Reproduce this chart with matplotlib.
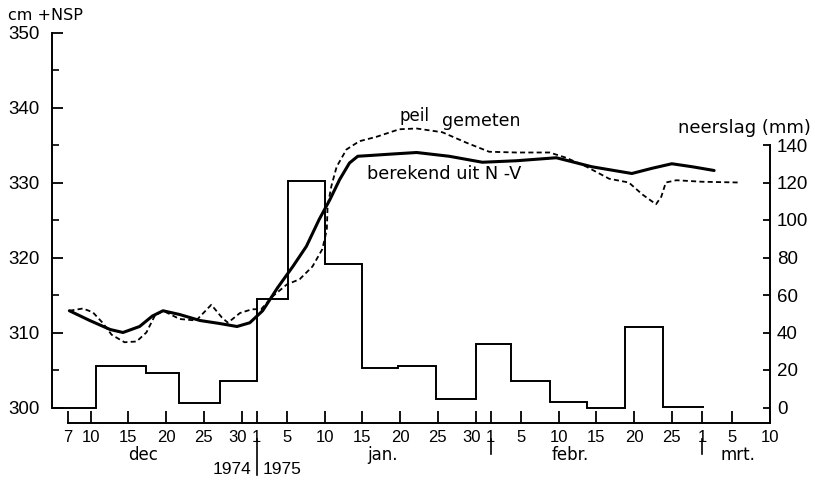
import matplotlib
matplotlib.use('Agg')
import matplotlib.pyplot as plt
import matplotlib.transforms as mtransforms
from matplotlib.ticker import MultipleLocator

# x positions are days counted from 1 dec 1974 (1 dec = 0)
tick_days = [6, 9, 14, 19, 24, 29, 31, 35, 40, 45, 50, 55, 60, 62, 66, 71, 76, 81, 86, 90, 94, 99]
tick_labels = ['7', '10', '15', '20', '25', '30', '1', '5', '10', '15', '20', '25', '30',
               '1', '5', '10', '15', '20', '25', '1', '5', '10']

months = ['dec', 'jan.', 'febr.', 'mrt.']
month_days = [16.0, 47.7, 72.5, 94.8]
month_breaks = [62, 90]

# neerslag (mm), steps
neerslag_edges = [3.9, 9.7, 16.3, 20.7, 26.1, 31.1, 35.2, 40.0, 45.0, 49.7, 54.7,
                  60.1, 64.7, 69.8, 74.8, 79.8, 84.8, 90.3]
neerslag_mm = [0, 22, 18.5, 2.6, 14.3, 58, 121, 76.6, 21, 22, 4.8, 34, 14.3, 3, 0, 43, 0.5]

# berekend uit N-V (cm +NSP)
ber_days = [6.2, 8.9, 11.6, 13.3, 15.5, 17.2, 18.6, 20.8, 23.5, 26.1, 28.4, 30.1, 31.8,
            33.8, 35.8, 37.6, 39.3, 40.7, 42.0, 43.3, 44.4, 46.0, 49.0, 52.2, 56.5,
            60.9, 65.4, 70.7, 75.4, 80.7, 83.4, 86.0, 88.7, 91.6]
ber_cm = [312.9, 311.6, 310.4, 310.0, 310.8, 312.2, 312.9, 312.4, 311.6, 311.2, 310.8,
          311.3, 312.9, 316.0, 318.8, 321.5, 325.1, 327.7, 330.4, 332.6, 333.5, 333.6,
          333.8, 334.0, 333.5, 332.7, 332.9, 333.3, 332.1, 331.2, 331.9, 332.5, 332.1, 331.6]

# peil gemeten (cm +NSP)
peil_days = [6.2, 8.0, 9.3, 10.6, 11.8, 13.5, 15.1, 16.4, 17.5, 18.6, 20.8, 23.0, 25.0,
             26.4, 27.2, 28.8, 30.4, 31.6, 33.1, 35.0, 36.7, 38.4, 39.7, 40.3, 40.4,
             40.9, 41.6, 42.9, 44.6, 46.9, 49.9, 52.2, 55.6, 58.8, 61.8, 65.4, 69.8,
             72.0, 74.7, 77.7, 80.3, 82.1, 83.9, 84.6, 85.2, 86.6, 90.0, 94.9]
peil_cm = [312.9, 313.2, 312.7, 311.3, 309.7, 308.7, 308.8, 310.0, 312.2, 312.9, 311.8,
           311.6, 313.7, 312.0, 311.3, 312.6, 313.1, 313.1, 314.8, 316.4, 317.1, 318.8,
           321.1, 323.7, 326.8, 329.5, 332.1, 334.4, 335.5, 336.1, 337.1, 337.2, 336.7,
           335.3, 334.1, 334.0, 334.0, 333.3, 332.1, 330.5, 330.0, 328.4, 327.1, 328.1,
           330.0, 330.3, 330.1, 330.0]

plt.rcParams['font.family'] = 'DejaVu Sans'
numfont = 'Liberation Sans'

fig = plt.figure(figsize=(8.15, 4.83), dpi=100)
ax = fig.add_axes([52/815, 75.5/483, 718/815, 375/483])
ax2 = ax.twinx()

ax.set_xlim(3.9, 98.9)
ax.set_ylim(300, 350)
ax2.set_ylim(0, 200)

ax.plot(ber_days, ber_cm, color='black', lw=2.2, solid_capstyle='round', clip_on=False)
ax.plot(peil_days, peil_cm, color='black', lw=1.3, dashes=(2.8, 1.8), clip_on=False)
ax2.stairs(neerslag_mm, neerslag_edges, baseline=None, color='black', lw=1.4, clip_on=False)

# spines
ax.spines['top'].set_visible(False)
ax2.spines['top'].set_visible(False)
ax.spines['right'].set_visible(False)
ax2.spines['left'].set_visible(False)
ax2.spines['bottom'].set_visible(False)
ax.spines['left'].set_bounds(300, 350)
ax.spines['bottom'].set_position(('outward', 11))
ax.spines['bottom'].set_bounds(6, 99)
ax2.spines['right'].set_bounds(-8, 140)
for sp in [ax.spines['left'], ax.spines['bottom'], ax2.spines['right']]:
    sp.set_linewidth(1.4)

# left axis
ax.yaxis.set_major_locator(MultipleLocator(10))
ax.yaxis.set_minor_locator(MultipleLocator(5))
ax.tick_params(axis='y', which='major', direction='in', length=8, width=1.3, pad=9)
ax.tick_params(axis='y', which='minor', direction='in', length=5, width=1.2)
for lb in ax.get_yticklabels():
    lb.set_fontfamily(numfont)
    lb.set_fontsize(13.5)

# right axis
ax2.set_yticks(range(0, 141, 20))
ax2.tick_params(axis='y', direction='in', length=5, width=1.3, pad=5)
for lb in ax2.get_yticklabels():
    lb.set_fontfamily(numfont)
    lb.set_fontsize(13.5)

# x axis
ax.set_xticks(tick_days)
ax.set_xticklabels(tick_labels, fontfamily=numfont, fontsize=12)
ax.tick_params(axis='x', direction='in', length=8.5, width=1.3, pad=5)
shift = mtransforms.ScaledTranslation(-3/72, 0, fig.dpi_scale_trans)
for lb, t in zip(ax.get_xticklabels(), tick_labels):
    if t == '30':
        lb.set_transform(lb.get_transform() + shift)

tr = ax.get_xaxis_transform()
for m, d in zip(months, month_days):
    ax.text(d, -0.126, m, transform=tr, ha='center', va='center', fontsize=12)
ax.plot([31, 31], [-0.085, -0.18], transform=tr, color='black', lw=1.2, clip_on=False)
for d in month_breaks:
    ax.plot([d, d], [-0.085, -0.125], transform=tr, color='black', lw=1.2, clip_on=False)
ax.text(30.3, -0.165, '1974', transform=tr, ha='right', va='center', fontsize=12.5,
        fontfamily=numfont)
ax.text(31.8, -0.165, '1975', transform=tr, ha='left', va='center', fontsize=12.5,
        fontfamily=numfont)

# titles and curve labels
fig.text(8/815, 1 - 16/483, 'cm +NSP', ha='left', va='center', fontsize=11.5)
fig.text(811/815, 1 - 128/483, 'neerslag (mm)', ha='right', va='center', fontsize=13)
ax.text(49.9, 338.9, 'peil', ha='left', va='center', fontsize=12)
ax.text(55.6, 338.2, 'gemeten', ha='left', va='center', fontsize=12.5)
ax.text(45.6, 331.1, 'berekend uit N -V', ha='left', va='center', fontsize=12.8)

fig.savefig('out.png', dpi=100)
